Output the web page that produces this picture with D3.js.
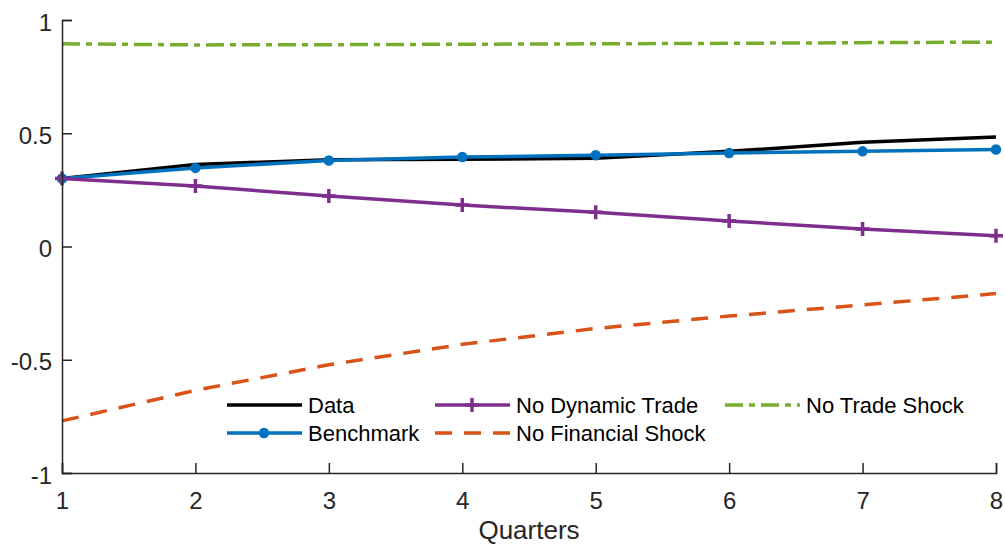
<!DOCTYPE html>
<html>
<head>
<meta charset="utf-8">
<script src="https://cdn.jsdelivr.net/npm/d3@7"></script>
<style>
  body { margin: 0; background: #fff; }
  text { font-family: "Liberation Sans", Arial, sans-serif; }
</style>
</head>
<body>
<div id="chart"></div>
<script>
// Chart data
const quarters = [1, 2, 3, 4, 5, 6, 7, 8];
const dataSeries = [0.30, 0.362, 0.383, 0.385, 0.39, 0.42, 0.46, 0.483];
const benchmark = [0.30, 0.347, 0.38, 0.395, 0.403, 0.413, 0.42, 0.428];
const noDynamicTrade = [0.30, 0.267, 0.223, 0.183, 0.151, 0.113, 0.077, 0.047];
const noFinancialShock = [-0.77, -0.635, -0.522, -0.432, -0.362, -0.307, -0.258, -0.208];
const noTradeShock = [0.895, 0.89, 0.891, 0.893, 0.895, 0.897, 0.9, 0.902];
const yTicks = [-1, -0.5, 0, 0.5, 1];

const series = [
    { name: 'Data', values: dataSeries, color: '#000000', dash: null, marker: null },
    { name: 'Benchmark', values: benchmark, color: '#0072BD', dash: null, marker: 'circle' },
    { name: 'No Dynamic Trade', values: noDynamicTrade, color: '#7E2F8E', dash: null, marker: 'plus' },
    { name: 'No Financial Shock', values: noFinancialShock, color: '#D95319', dash: '17,12', marker: null },
    { name: 'No Trade Shock', values: noTradeShock, color: '#77AC30', dash: '18,6,6,6', marker: null }
];

const W = 1005, H = 545;
const margin = { top: 20, right: 9, bottom: 72, left: 62 };
const width = W - margin.left - margin.right;
const height = H - margin.top - margin.bottom;

const svg = d3.select('#chart')
    .append('svg')
    .attr('width', W)
    .attr('height', H)
    .append('g')
    .attr('transform', `translate(${margin.left},${margin.top})`);

const x = d3.scaleLinear().domain([1, 8]).range([0, width]);
const y = d3.scaleLinear().domain([-1, 1]).range([height, 0]);

const axisColor = '#262626';
const lineW = 3.5;

// Lines
const line = d3.line()
    .x((d, i) => x(quarters[i]))
    .y(d => y(d));

series.forEach(s => {
    svg.append('path')
        .datum(s.values)
        .attr('fill', 'none')
        .attr('stroke', s.color)
        .attr('stroke-width', lineW)
        .attr('stroke-dasharray', s.dash)
        .attr('d', line);
});

// Markers
function drawMarker(g, type, cx, cy, color) {
    if (type === 'circle') {
        g.append('circle')
            .attr('cx', cx).attr('cy', cy).attr('r', 4.5)
            .attr('fill', color).attr('stroke', color).attr('stroke-width', 1.5);
    } else if (type === 'plus') {
        g.append('path')
            .attr('d', `M${cx - 7},${cy}H${cx + 7}M${cx},${cy - 7}V${cy + 7}`)
            .attr('stroke', color).attr('stroke-width', 3.5).attr('fill', 'none');
    }
}

series.filter(s => s.marker).forEach(s => {
    const g = svg.append('g');
    s.values.forEach((v, i) => drawMarker(g, s.marker, x(quarters[i]), y(v), s.color));
});

// Axes
const xAxis = svg.append('g')
    .attr('transform', `translate(0,${height})`)
    .call(d3.axisBottom(x).tickValues(quarters).tickSize(-10).tickPadding(19).tickFormat(d3.format('d')));

const yAxis = svg.append('g')
    .call(d3.axisLeft(y).tickValues(yTicks).tickSize(-10).tickPadding(10).tickFormat(d => d));

[xAxis, yAxis].forEach(a => {
    a.select('.domain').attr('stroke', axisColor).attr('stroke-width', 1.5);
    a.selectAll('.tick line').attr('stroke', axisColor).attr('stroke-width', 1.5);
    a.selectAll('.tick text')
        .attr('fill', axisColor)
        .style('font-size', '24px');
});
yAxis.selectAll('.tick text').attr('dy', '0.42em');

// X axis label
svg.append('text')
    .attr('x', width / 2)
    .attr('y', height + 66)
    .attr('text-anchor', 'middle')
    .attr('fill', axisColor)
    .style('font-size', '26px')
    .text('Quarters');

// Legend
const legendItems = [
    { s: series[0], lx: 165, ly: 385 },
    { s: series[1], lx: 165, ly: 413 },
    { s: series[2], lx: 373, ly: 385 },
    { s: series[3], lx: 373, ly: 413 },
    { s: series[4], lx: 663, ly: 385 }
];

const legend = svg.append('g');
legendItems.forEach(item => {
    const s = item.s;
    legend.append('line')
        .attr('x1', item.lx).attr('x2', item.lx + 75)
        .attr('y1', item.ly).attr('y2', item.ly)
        .attr('stroke', s.color)
        .attr('stroke-width', lineW)
        .attr('stroke-dasharray', s.dash);
    if (s.marker) drawMarker(legend, s.marker, item.lx + 37, item.ly, s.color);
    legend.append('text')
        .attr('x', item.lx + 81)
        .attr('y', item.ly)
        .attr('dy', '0.36em')
        .attr('fill', '#000')
        .style('font-size', '22px')
        .text(s.name);
});
</script>
</body>
</html>
